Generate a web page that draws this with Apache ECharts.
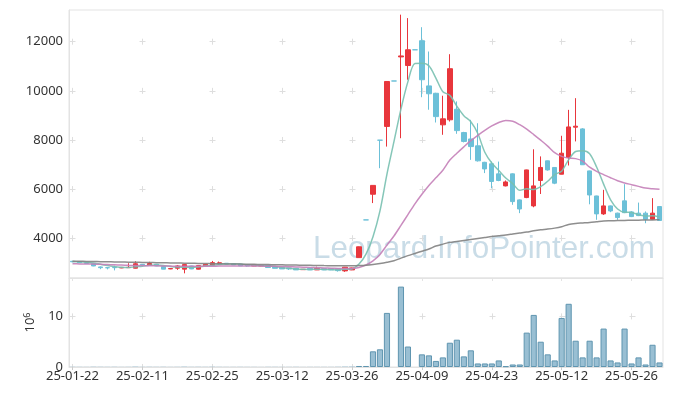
<!DOCTYPE html>
<html><head><meta charset="utf-8">
<script src="https://cdn.jsdelivr.net/npm/echarts@6/dist/echarts.min.js"></script>
<style>html,body{margin:0;padding:0;background:#fff}#c{width:673px;height:396px}</style>
</head><body><div id="c"></div>
<script>
const dates = ['25-01-22','25-01-23','25-01-24','25-01-31','25-02-03','25-02-04','25-02-05','25-02-06','25-02-07','25-02-10',
'25-02-11','25-02-12','25-02-13','25-02-14','25-02-17','25-02-18','25-02-19','25-02-20','25-02-21','25-02-24',
'25-02-25','25-02-26','25-02-27','25-02-28','25-03-04','25-03-05','25-03-06','25-03-07','25-03-10','25-03-11',
'25-03-12','25-03-13','25-03-14','25-03-17','25-03-18','25-03-19','25-03-20','25-03-21','25-03-24','25-03-25',
'25-03-26','25-03-27','25-03-28','25-03-31','25-04-01','25-04-02','25-04-03','25-04-04','25-04-07','25-04-08',
'25-04-09','25-04-10','25-04-11','25-04-14','25-04-15','25-04-16','25-04-17','25-04-18','25-04-21','25-04-22',
'25-04-23','25-04-24','25-04-25','25-04-28','25-04-29','25-04-30','25-05-02','25-05-07','25-05-08','25-05-09',
'25-05-12','25-05-13','25-05-14','25-05-15','25-05-16','25-05-19','25-05-20','25-05-21','25-05-22','25-05-23',
'25-05-26','25-05-27','25-05-28','25-05-29','25-05-30'];

const opens = [3060,3030,3000,2960,2830,2800,2810,2790,2800,2780,
2935,2900,2940,2845,2750,2780,2740,2870,2740,2875,
2900,2960,2980,2960,2940,2910,2870,2870,2885,2840,
2815,2790,2775,2720,2770,2710,2760,2760,2760,2670,
2710,3210,4745,5790,7990,8550,10400,11380,11030,11670,
12040,10200,9900,8615,8820,9250,8300,8040,7760,7090,
7030,6620,6130,6620,5560,5655,5315,6350,7150,6880,
6605,7285,8520,8450,6740,5720,4990,5315,5020,5520,
5070,5020,5020,4770,5290];
const closes = [3040,3000,2975,2870,2800,2795,2800,2810,2815,2960,
2910,2970,2870,2740,2765,2870,2925,2750,2885,2940,
3005,3000,2945,2915,2875,2870,2905,2885,2805,2775,
2750,2750,2710,2735,2710,2770,2710,2710,2680,2820,
2790,3650,4745,6150,7990,10380,10400,11420,11670,11670,
10450,9880,8950,8860,10900,8380,7940,7730,7150,6820,
6310,6350,6290,5490,5190,6780,6130,6880,6780,6240,
7460,8530,8560,6990,5760,4990,5315,5110,4840,5040,
4880,4920,4770,5020,4720];
const lows = [3020,2990,2960,2860,2740,2730,2690,2780,2790,2770,
2900,2890,2860,2735,2740,2710,2570,2740,2730,2870,
2890,2910,2935,2910,2870,2845,2865,2860,2800,2770,
2745,2710,2705,2710,2705,2705,2700,2700,2640,2630,
2700,3200,4745,5430,6850,7730,10400,8070,10450,11670,
9740,9230,8710,8210,8750,8250,7900,7190,7120,6650,
6030,6320,6110,5360,5020,5630,5260,5800,6750,6200,
6600,6960,7940,6980,5380,4750,4950,5060,4750,5020,
4860,4900,4610,4760,4700];
const highs = [3075,3040,3010,2965,2850,2820,2880,2820,2980,3060,
2950,3040,2950,2850,2770,2910,2930,2880,2890,2945,
3075,3050,2990,2970,2950,2920,2910,2895,2895,2845,
2820,2795,2780,2740,2775,2840,2765,2765,2765,2830,
2800,3660,4745,6150,7990,10380,10400,13100,12960,11670,
12590,11600,9920,9800,11490,9570,8330,8820,8680,7110,
7120,7120,6350,6640,5580,6790,7620,7330,7160,6890,
8170,9225,9700,8480,6750,5730,5970,5330,5040,6200,
5100,5450,5090,5630,5300];
const volumes = [0.05,0.04,0.03,0.06,0.05,0.04,0.05,0.03,0.04,0.08,
0.04,0.05,0.04,0.05,0.03,0.04,0.07,0.04,0.05,0.04,
0.06,0.04,0.03,0.03,0.04,0.03,0.03,0.02,0.04,0.04,
0.03,0.03,0.04,0.02,0.03,0.03,0.03,0.03,0.05,0.08,
0.09,0.2,0.2,3.1,3.5,10.7,0,15.9,4.05,0,
2.5,2.3,1.2,1.9,4.8,5.4,2.1,3.3,0.7,0.7,
0.7,1.3,0.15,0.5,0.5,6.8,10.3,5.0,2.5,1.3,
9.7,12.5,5.2,1.9,5.2,1.9,7.6,1.3,0.9,7.6,
0.7,1.9,0.5,4.4,0.9];
const ma5 = [3050,3040,3020,2990,2940,2890,2850,2815,2805,2835,
2860,2895,2905,2890,2850,2825,2820,2810,2830,2870,
2900,2925,2955,2960,2950,2920,2900,2885,2870,2845,
2800,2775,2750,2735,2730,2735,2730,2725,2715,2735,
2750,2950,3350,4060,5110,6610,7930,9255,10375,11115,
11120,11020,10520,9965,9815,9375,8990,8740,8260,7500,
7060,6760,6450,6220,5950,6010,5985,6100,6320,6590,
6730,7200,7530,7560,7440,6900,6200,5560,5190,5060,
5050,4960,4900,4910,4860];
const ma20 = [2960,2955,2950,2945,2935,2925,2915,2905,2895,2890,
2885,2880,2875,2870,2865,2860,2860,2855,2855,2855,
2860,2865,2870,2870,2870,2870,2870,2865,2860,2855,
2850,2840,2830,2820,2810,2800,2790,2780,2770,2765,
2765,2810,2910,3080,3340,3720,4090,4520,4960,5400,
5790,6150,6460,6770,7180,7460,7720,7970,8190,8390,
8570,8710,8790,8760,8620,8440,8220,7990,7750,7480,
7330,7260,7240,7140,6890,6720,6590,6460,6340,6250,
6180,6110,6040,6010,5990];
const ma100 = [3065,3060,3055,3050,3045,3040,3035,3030,3025,3020,
3015,3010,3005,3000,2995,2990,2985,2980,2975,2970,
2965,2960,2955,2950,2945,2940,2935,2930,2925,2920,
2915,2910,2905,2900,2895,2890,2885,2882,2880,2878,
2878,2885,2900,2930,2970,3020,3080,3190,3290,3380,
3470,3560,3680,3760,3830,3870,3910,3950,3990,4030,
4070,4100,4130,4170,4210,4250,4300,4340,4370,4410,
4470,4560,4600,4620,4640,4670,4700,4710,4720,4725,
4730,4735,4740,4745,4760];
const priceTicks = [4000,6000,8000,10000,12000];
const volumeTicks = [0,10];

const UP = '#e8363c', DOWN = '#6cc0d8';
const candles = dates.map((d,i)=>[opens[i],closes[i],lows[i],highs[i]]);
// sub-pixel bars are drawn without outline (as in the reference renderer)
const volumeData = volumes.map(v => v < 0.1 ? {value:v,itemStyle:{borderWidth:0}} : v);
const chart = echarts.init(document.getElementById('c'), null, {renderer:'canvas'});
const gridLine = '#e3e3e3';
const labelFont = {fontFamily:'"Noto Sans", sans-serif', fontSize:13, color:'#333'};
const plain = v => String(v);
const priceMin = 2380, priceMax = 13290, volMax = 17.6;
chart.setOption({
  animation:false,
  backgroundColor:'#fff',
  grid:[
    {left:69,right:10,top:10,height:268,show:true,borderColor:gridLine,borderWidth:1},
    {left:69,right:10,top:278,height:89,show:true,borderColor:gridLine,borderWidth:1}
  ],
  graphic:[{type:'text',right:18,top:234,z:1,silent:true,
    style:{text:'Leopard.InfoPointer.com',font:'31.4px "Liberation Sans", sans-serif',fill:'#c9dce7'}}],
  xAxis:[
    {type:'category',gridIndex:0,data:dates,boundaryGap:true,
     axisLine:{lineStyle:{color:gridLine}},
     axisTick:{show:true,interval:9,alignWithLabel:true,length:3,lineStyle:{color:gridLine}},
     axisLabel:{show:false,interval:9},
     splitLine:{show:true,interval:9,alignWithLabel:true,lineStyle:{color:'#dedede',type:[6,43.13],dashOffset:20.43}}},
    {type:'category',gridIndex:1,data:dates,boundaryGap:true,
     axisLine:{lineStyle:{color:gridLine}},
     axisTick:{show:true,interval:9,alignWithLabel:true,length:3,lineStyle:{color:'#ccc'}},
     axisLabel:Object.assign({interval:9,margin:3},labelFont),
     splitLine:{show:true,interval:9,alignWithLabel:true,lineStyle:{color:'#dedede',type:[6,44.57],dashOffset:15.17}}}
  ],
  yAxis:[
    {type:'value',gridIndex:0,min:priceMin,max:priceMax,scale:true,
     axisLine:{show:true,lineStyle:{color:gridLine}},
     axisTick:{show:false,customValues:priceTicks},
     axisLabel:Object.assign({customValues:priceTicks,margin:6,formatter:plain},labelFont),
     splitLine:{show:true,lineStyle:{color:'#dedede',type:[6,64],dashOffset:69.5}}},
    {type:'value',gridIndex:1,min:0,max:volMax,
     name:'10{s|6}',nameLocation:'middle',nameGap:30,nameRotate:90,
     nameTextStyle:{fontFamily:'"Noto Sans", sans-serif',fontSize:13,color:'#333',rich:{s:{fontSize:9,verticalAlign:'top',padding:[0,0,6,0],fontFamily:'"Noto Sans", sans-serif',color:'#333'}}},
     axisLine:{show:true,lineStyle:{color:gridLine}},
     axisTick:{show:false,customValues:volumeTicks},
     axisLabel:Object.assign({customValues:volumeTicks,margin:6,formatter:plain},labelFont),
     splitLine:{show:true,lineStyle:{color:'#dedede',type:[6,64],dashOffset:69.5}}}
  ],
  series:[
    {type:'candlestick',xAxisIndex:0,yAxisIndex:0,data:candles,barWidth:'70%',z:3,
     itemStyle:{color:UP,color0:DOWN,borderColor:UP,borderColor0:DOWN,borderColorDoji:DOWN,borderWidth:1}},
    {type:'line',xAxisIndex:0,yAxisIndex:0,data:ma5,symbol:'none',smooth:0.3,z:4,
     lineStyle:{color:'rgba(120,192,176,0.9)',width:1.5}},
    {type:'line',xAxisIndex:0,yAxisIndex:0,data:ma20,symbol:'none',smooth:0.3,z:4,
     lineStyle:{color:'rgba(196,128,184,0.9)',width:1.5}},
    {type:'line',xAxisIndex:0,yAxisIndex:0,data:ma100,symbol:'none',smooth:0.3,z:4,
     lineStyle:{color:'rgba(130,130,130,0.9)',width:1.5}},
    {type:'bar',xAxisIndex:1,yAxisIndex:1,data:volumeData,barWidth:'88%',
     itemStyle:{color:'rgba(135,180,203,0.85)',borderColor:'#5f95b0',borderWidth:1}}
  ]
});
</script></body></html>
